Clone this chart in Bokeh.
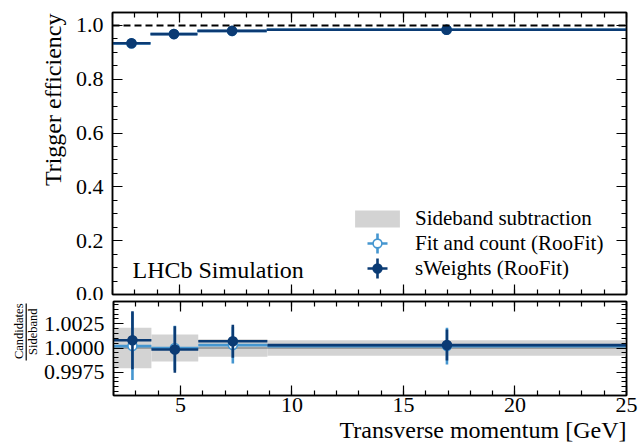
import numpy as np
from bokeh.plotting import figure
from bokeh.layouts import column, row
from bokeh.models import (ColumnDataSource, FixedTicker, Range1d, Span, Label, Legend,
                          LegendItem, BoxAnnotation, PrintfTickFormatter, CustomJSTickFormatter,
                          LinearAxis, Title)
from bokeh.embed import file_html
from bokeh.resources import INLINE

# ---------------- data ----------------
bin_edges = [2.0, 3.7, 5.8, 8.9, 25.0]

eff_sideband = [0.9333, 0.9682, 0.9793, 0.9837]
eff_sideband_err = [0.0020, 0.0013, 0.0009, 0.0008]
eff_fitcount = [0.9334, 0.9682, 0.9796, 0.9839]
eff_fitcount_err = [0.0033, 0.0022, 0.0019, 0.0019]
eff_sweights = [0.9340, 0.9680, 0.9800, 0.9840]
eff_sweights_err = [0.0028, 0.0023, 0.0017, 0.0016]

ratio_sideband = [1.0, 1.0, 1.0, 1.0]
ratio_sideband_err = [0.0021, 0.0014, 0.0009, 0.0008]
ratio_fitcount = [1.0002, 1.0000, 1.0003, 1.0002]
ratio_fitcount_err = [0.0035, 0.0023, 0.0019, 0.0019]
ratio_sweights = [1.0008, 0.99985, 1.0007, 1.0003]
ratio_sweights_err = [0.0030, 0.0024, 0.0017, 0.0016]

x_major_ticks = [5, 10, 15, 20, 25]
x_minor_ticks = list(range(2, 26))
eff_major_ticks = [0.0, 0.2, 0.4, 0.6, 0.8, 1.0]
eff_minor_ticks = [round(0.05 * i, 2) for i in range(21)]
ratio_major_ticks = [0.9975, 1.0, 1.0025]
ratio_minor_ticks = [round(0.9950 + 0.0005 * i, 4) for i in range(20)]

label_sideband = "Sideband subtraction"
label_fitcount = "Fit and count (RooFit)"
label_sweights = "sWeights (RooFit)"

# ---------------- style ----------------
FONT = "'Liberation Serif'"
DARK = "#0b3b74"
LIGHT = "#4596d0"
GRAY = "#d3d3d3"
TICK_FONT = "22px"

lo = np.array(bin_edges[:-1])
hi = np.array(bin_edges[1:])
mid = (lo + hi) / 2


def make_fig(width, height, y_range, b_left, b_top, b_bottom):
    p = figure(width=width, height=height, x_range=Range1d(2, 25), y_range=y_range,
               output_backend="svg", toolbar_location=None,
               min_border_left=b_left, min_border_right=12,
               min_border_top=b_top, min_border_bottom=b_bottom)
    p.xgrid.visible = False
    p.ygrid.visible = False
    p.outline_line_color = "black"
    p.outline_line_width = 1.5
    p.background_fill_color = "white"
    p.border_fill_color = "white"
    return p


def make_strip(width, height, frame_h):
    # blank strip for axis titles; its frame is aligned with the neighbouring plot's frame
    s = figure(width=width, height=height, x_range=Range1d(0, width), y_range=Range1d(0, frame_h),
               output_backend="svg", toolbar_location=None,
               x_axis_location=None, y_axis_location=None,
               min_border=0, min_border_left=0, min_border_right=0,
               min_border_top=0, min_border_bottom=0)
    s.xgrid.visible = False
    s.ygrid.visible = False
    s.outline_line_color = None
    s.background_fill_color = "white"
    s.border_fill_color = "white"
    return s


def style_axis(ax, ticks, minor, labels, fmt=None, standoff=9):
    ax.ticker = FixedTicker(ticks=ticks, minor_ticks=minor)
    ax.major_tick_in = 10
    ax.major_tick_out = 0
    ax.minor_tick_in = 5
    ax.minor_tick_out = 0
    ax.major_tick_line_width = 1.2
    ax.minor_tick_line_width = 1.2
    ax.major_tick_line_color = "black"
    ax.minor_tick_line_color = "black"
    ax.axis_line_color = "black"
    ax.axis_line_width = 1.5
    if labels:
        ax.formatter = PrintfTickFormatter(format=fmt)
        ax.major_label_text_font = FONT
        ax.major_label_text_font_size = TICK_FONT
        ax.major_label_text_color = "black"
        ax.major_label_standoff = standoff
    else:
        ax.formatter = CustomJSTickFormatter(code="return ''")
        ax.major_label_text_font_size = "0px"
        ax.major_label_standoff = 0


def add_axes(p, yticks, yminor, yfmt, xlabels):
    style_axis(p.xaxis[0], x_major_ticks, x_minor_ticks, xlabels, "%d", 2)
    style_axis(p.yaxis[0], yticks, yminor, True, yfmt, 9)
    above = LinearAxis()
    style_axis(above, x_major_ticks, x_minor_ticks, False)
    p.add_layout(above, "above")
    right = LinearAxis()
    style_axis(right, yticks, yminor, False)
    p.add_layout(right, "right")


def draw_series(p, sb_vals, sb_errs, fit_vals, fit_errs, sw_vals, sw_errs):
    sb = ColumnDataSource(dict(left=lo, right=hi,
                               bottom=np.array(sb_vals) - np.array(sb_errs),
                               top=np.array(sb_vals) + np.array(sb_errs)))
    r_sb = p.quad(left="left", right="right", bottom="bottom", top="top", source=sb,
                  fill_color=GRAY, line_color=None, level="underlay")
    rs = {}
    for name, v, e, color, fill in (("fit", fit_vals, fit_errs, LIGHT, "white"),
                                     ("sw", sw_vals, sw_errs, DARK, DARK)):
        v = np.array(v)
        e = np.array(e)
        src = ColumnDataSource(dict(lo=lo, hi=hi, mid=mid, y=v, ylo=v - e, yhi=v + e))
        p.segment(x0="lo", x1="hi", y0="y", y1="y", source=src, line_color=color, line_width=2.6)
        p.segment(x0="mid", x1="mid", y0="ylo", y1="yhi", source=src, line_color=color, line_width=2.6)
        rs[name] = p.scatter(x="mid", y="y", source=src, size=9, marker="circle",
                             fill_color=fill, line_color=color, line_width=1.6)
    return r_sb, rs


# ---------------- top panel ----------------
top = make_fig(568, 300, Range1d(0, 1.0483), 42, 12, 6)
add_axes(top, eff_major_ticks, eff_minor_ticks, "%.1f", False)

top.add_layout(Span(location=1.0, dimension="width", line_color="black",
                    line_dash="7 4", line_width=2))

r_sb_top, rs_top = draw_series(top, eff_sideband, eff_sideband_err,
                               eff_fitcount, eff_fitcount_err, eff_sweights, eff_sweights_err)

# legend-only cross glyphs (error-bar look)
nan_src = ColumnDataSource(dict(x=np.array([np.nan]), y=np.array([np.nan])))
cross_fit = top.scatter(x="x", y="y", source=nan_src, marker="cross", size=20,
                        line_color=LIGHT, line_width=2.6)
cross_sw = top.scatter(x="x", y="y", source=nan_src, marker="cross", size=20,
                       line_color=DARK, line_width=2.6)

common = dict(padding=0, margin=0, border_line_color=None, background_fill_alpha=0,
              label_text_font=FONT, label_text_font_size="21px", label_text_color="black")
leg_sb = Legend(items=[LegendItem(label=label_sideband, renderers=[r_sb_top])],
                location=(237, 63), glyph_width=56, glyph_height=21, label_standoff=10,
                **common)
leg_fit = Legend(items=[LegendItem(label=label_fitcount, renderers=[cross_fit])],
                 location=(240, 26), glyph_width=50, glyph_height=50,
                 label_standoff=13, **common)
leg_sw = Legend(items=[LegendItem(label=label_sweights, renderers=[cross_sw])],
                location=(240, 1), glyph_width=50, glyph_height=50,
                label_standoff=13, **common)
common_dot = dict(common)
common_dot["label_text_font_size"] = "8px"
leg_dot = Legend(items=[LegendItem(label="", renderers=[rs_top["fit"]]),
                        LegendItem(label="", renderers=[rs_top["sw"]])],
                 location=(240, 15), glyph_width=50, glyph_height=22, spacing=3,
                 label_height=8, label_standoff=0, **common_dot)
for lg in (leg_sb, leg_fit, leg_sw, leg_dot):
    top.add_layout(lg)

top.add_layout(Label(x=20, y=25, x_units="screen", y_units="screen", text="LHCb Simulation",
                     text_font=FONT, text_font_size="24px", text_color="black",
                     text_baseline="middle"))

# y-axis title strip for the top panel (frame aligned with the top panel: 282 px tall)
lab_top = make_strip(70, 300, 282)
lab_top.add_layout(Label(x=52, y=281, x_units="screen", y_units="screen", angle=np.pi / 2,
                         text="Trigger efficiency", text_font=FONT, text_font_size="24px",
                         text_color="black", text_align="right", text_baseline="middle"))

# ---------------- ratio panel ----------------
bot = make_fig(598, 148, Range1d(0.9951, 1.0048), 72, 1, 53)
add_axes(bot, ratio_major_ticks, ratio_minor_ticks, "%.4f", True)

draw_series(bot, ratio_sideband, ratio_sideband_err,
            ratio_fitcount, ratio_fitcount_err, ratio_sweights, ratio_sweights_err)
bot.add_layout(Span(location=1.0, dimension="width", line_color="black",
                    line_dash="1 1", line_width=1, level="underlay"))
bot.add_layout(Title(text="Transverse momentum [GeV]", align="right", text_font=FONT,
                     text_font_size="24px", text_font_style="normal", text_color="black",
                     standoff=0, offset=0), "below")

# fraction y-axis title strip for the ratio panel (frame aligned: 94 px tall)
lab_bot = make_strip(40, 148, 94)
lab_bot.add_layout(Label(x=18.5, y=92, x_units="screen", y_units="screen", angle=np.pi / 2,
                         text="Candidates", text_font=FONT, text_font_size="12.5px",
                         text_color="black", text_align="right", text_baseline="middle"))
lab_bot.add_layout(Label(x=32, y=87, x_units="screen", y_units="screen", angle=np.pi / 2,
                         text="Sideband", text_font=FONT, text_font_size="12.5px",
                         text_color="black", text_align="right", text_baseline="middle"))
lab_bot.add_layout(BoxAnnotation(left=25.1, right=26.3, bottom=35, top=92,
                                 fill_color="black", fill_alpha=1, line_color=None))

layout = column(row(lab_top, top, spacing=0), row(lab_bot, bot, spacing=0), spacing=0)
open("out.html", "w").write(file_html(layout, INLINE))
